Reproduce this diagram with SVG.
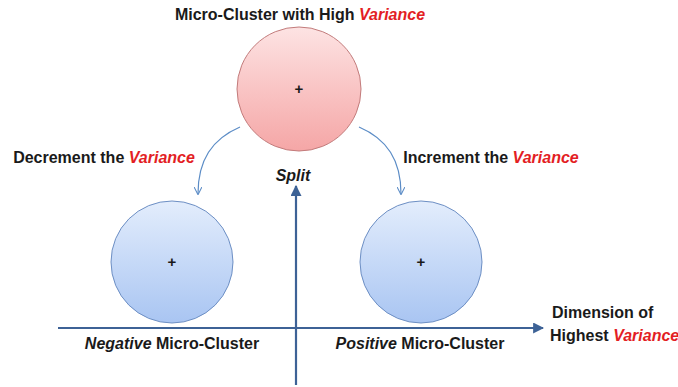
<svg xmlns="http://www.w3.org/2000/svg" width="678" height="387" viewBox="0 0 678 387">
<defs>
<linearGradient id="gPink" x1="0" y1="0" x2="0" y2="1">
<stop offset="0" stop-color="#fde3e3"/><stop offset="1" stop-color="#f5a6a6"/>
</linearGradient>
<linearGradient id="gBlue" x1="0" y1="0" x2="0" y2="1">
<stop offset="0" stop-color="#e3edfc"/><stop offset="1" stop-color="#a9c5f2"/>
</linearGradient>
<marker id="axHead" viewBox="0 0 10 10" refX="9" refY="5" markerWidth="5" markerHeight="5" orient="auto">
<path d="M0,0 L10,5 L0,10 z" fill="#3d6296"/>
</marker>
<marker id="cvHead" viewBox="0 0 10 10" refX="9" refY="5" markerWidth="8" markerHeight="8" orient="auto" markerUnits="userSpaceOnUse">
<path d="M0,0 L10,5 L0,10" fill="none" stroke="#5b8cc6" stroke-width="1.3"/>
</marker>
</defs>
<style>
text{font-family:"Liberation Sans",Arial,sans-serif;font-weight:bold;fill:#1a1a1a}
.lbl{font-size:16px}
.red{fill:#e31e24;font-style:italic}
.it{font-style:italic}
.plus{font-size:15px;font-weight:bold}
.axis{stroke:#3d6296;stroke-width:2.2;fill:none}
.curve{stroke:#5b8cc6;stroke-width:1.2;fill:none}
</style>
<g id="connectors">
<line class="axis" x1="58" y1="328" x2="543" y2="328" marker-end="url(#axHead)"/>
<line class="axis" x1="296" y1="385" x2="296" y2="186" marker-end="url(#axHead)"/>
<path class="curve" d="M240,127 C212,139 198,160 198,194" marker-end="url(#cvHead)"/>
<path class="curve" d="M359,127 C387,139 401,160 401,194" marker-end="url(#cvHead)"/>
</g>
<g id="high-variance">
<circle cx="299" cy="89" r="62" fill="url(#gPink)" stroke="#c27b7b" stroke-width="1"/>
<text class="plus" x="299" y="94" text-anchor="middle">+</text>
<text class="lbl" x="300" y="20" text-anchor="middle">Micro-Cluster with High <tspan class="red">Variance</tspan></text>
</g>
<g id="negative">
<circle cx="172" cy="262" r="61" fill="url(#gBlue)" stroke="#6d8fc4" stroke-width="1"/>
<text class="plus" x="172" y="267" text-anchor="middle">+</text>
<text class="lbl" x="172" y="349" text-anchor="middle"><tspan class="it">Negative</tspan> Micro-Cluster</text>
</g>
<g id="positive">
<circle cx="421" cy="262" r="61" fill="url(#gBlue)" stroke="#6d8fc4" stroke-width="1"/>
<text class="plus" x="421" y="267" text-anchor="middle">+</text>
<text class="lbl" x="420" y="349" text-anchor="middle"><tspan class="it">Positive</tspan> Micro-Cluster</text>
</g>
<g id="labels">
<text class="lbl" x="104" y="163" text-anchor="middle">Decrement the <tspan class="red">Variance</tspan></text>
<text class="lbl" x="491" y="163" text-anchor="middle">Increment the <tspan class="red">Variance</tspan></text>
<text class="lbl it" x="293" y="181" text-anchor="middle">Split</text>
<text class="lbl" x="552" y="318">Dimension of</text>
<text class="lbl" x="550" y="341">Highest <tspan class="red">Variance</tspan></text>
</g>
</svg>
